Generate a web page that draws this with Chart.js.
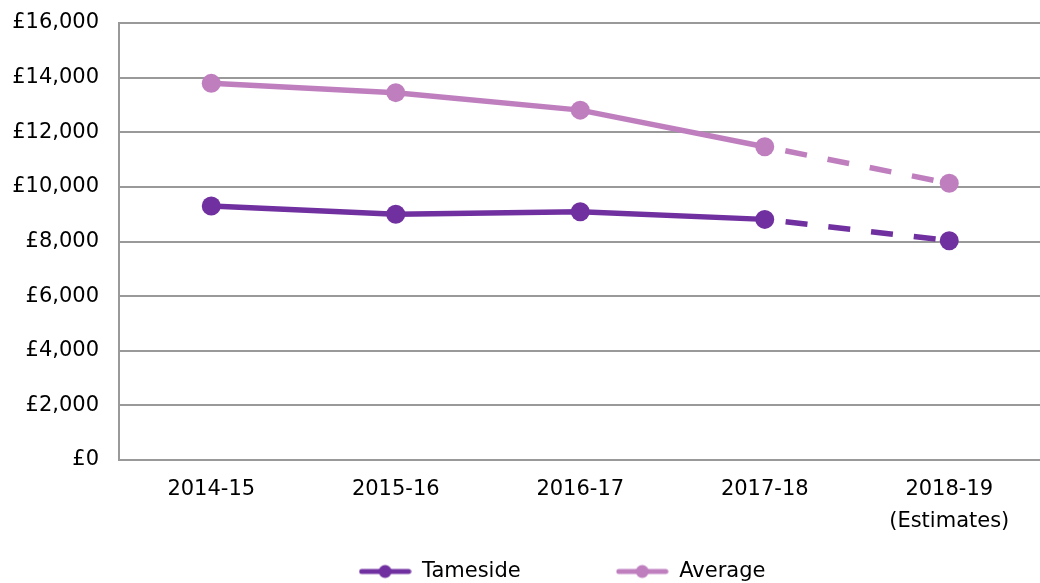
<!DOCTYPE html>
<html>
<head>
<meta charset="utf-8">
<script src="https://cdn.jsdelivr.net/npm/chart.js@4/dist/chart.umd.min.js"></script>
<style>
  html, body { margin: 0; padding: 0; overflow: hidden; background: #fff; }
  #wrap { width: 1040px; height: 583px; overflow: hidden; }
</style>
</head>
<body>
<div id="wrap"><canvas id="graph" width="1051" height="583"></canvas></div>
<script>
var years = [["2014-15"], ["2015-16"], ["2016-17"], ["2017-18"], ["2018-19", "(Estimates)"]];
var tameside = [9300, 9000, 9090, 8810, 8030];
var average = [13790, 13450, 12810, 11470, 10130];

var purple = "#7030A0";
var lilac = "#BF7FBF";

// little line-with-dot icon for the legend
function legendIcon(colour) {
  var c = document.createElement("canvas");
  c.width = 53; c.height = 16;
  var g = c.getContext("2d");
  g.strokeStyle = colour;
  g.lineWidth = 5;
  g.lineCap = "round";
  g.beginPath(); g.moveTo(3, 8); g.lineTo(50, 8); g.stroke();
  g.fillStyle = colour;
  g.beginPath(); g.arc(26.5, 8, 6.5, 0, Math.PI * 2); g.fill();
  return c;
}
var icons = [legendIcon(purple), legendIcon(lilac)];

// dashed look for the estimate segment (starts with a gap)
var lastDash = function (ctx) { return ctx.p1DataIndex === 4 ? [0, 21, 22, 0] : undefined; };

// put the legend on the bottom row, centred like the original
var legendSpot = {
  id: "legendSpot",
  afterLayout: function (chart) {
    var lg = chart.legend;
    lg.left = 73;
    lg.right = 1051;
    lg.top = 466;
    lg.bottom = 583;
  }
};

Chart.defaults.font.family = "'DejaVu Sans', Verdana, sans-serif";
Chart.defaults.font.size = 21;
Chart.defaults.color = "#000";

var ctx = document.getElementById("graph").getContext("2d");
new Chart(ctx, {
  type: "line",
  data: {
    labels: years,
    datasets: [
      {
        label: "Tameside",
        data: tameside,
        borderColor: purple,
        backgroundColor: purple,
        pointBackgroundColor: purple,
        pointBorderColor: purple,
        borderWidth: 5.5,
        pointRadius: 9.5,
        pointBorderWidth: 0,
        tension: 0,
        segment: { borderDash: lastDash }
      },
      {
        label: "Average",
        data: average,
        borderColor: lilac,
        backgroundColor: lilac,
        pointBackgroundColor: lilac,
        pointBorderColor: lilac,
        borderWidth: 5.5,
        pointRadius: 9.5,
        pointBorderWidth: 0,
        tension: 0,
        segment: { borderDash: lastDash }
      }
    ]
  },
  options: {
    responsive: false,
    animation: false,
    layout: { padding: { left: 0, top: 23, right: 0, bottom: 0 } },
    plugins: {
      tooltip: { enabled: false },
      legend: {
        position: "bottom",
        maxHeight: 40,
        labels: {
          usePointStyle: true,
          pointStyleWidth: 53,
          padding: 95,
          color: "#000",
          font: { size: 21 },
          generateLabels: function (chart) {
            var items = Chart.defaults.plugins.legend.labels.generateLabels(chart);
            items.forEach(function (it, i) { it.pointStyle = icons[i]; });
            return items;
          }
        }
      }
    },
    scales: {
      x: {
        offset: true,
        grid: { drawOnChartArea: false, drawTicks: false },
        border: { color: "#999", width: 2 },
        ticks: { padding: 14, color: "#000", maxRotation: 0, font: { size: 21, lineHeight: 1.5 } },
        afterFit: function (scale) { scale.height = 83; }
      },
      y: {
        min: 0,
        max: 16000,
        grid: { color: "#999", lineWidth: 2, drawTicks: true, tickLength: 20, tickColor: "rgba(0,0,0,0)" },
        border: { color: "#999", width: 2 },
        ticks: {
          stepSize: 2000,
          padding: 0,
          color: "#000",
          callback: function (v) { return "£" + v.toLocaleString("en-GB"); }
        },
        afterFit: function (scale) { scale.width = 119; }
      }
    }
  },
  plugins: [legendSpot]
});
</script>
</body>
</html>
